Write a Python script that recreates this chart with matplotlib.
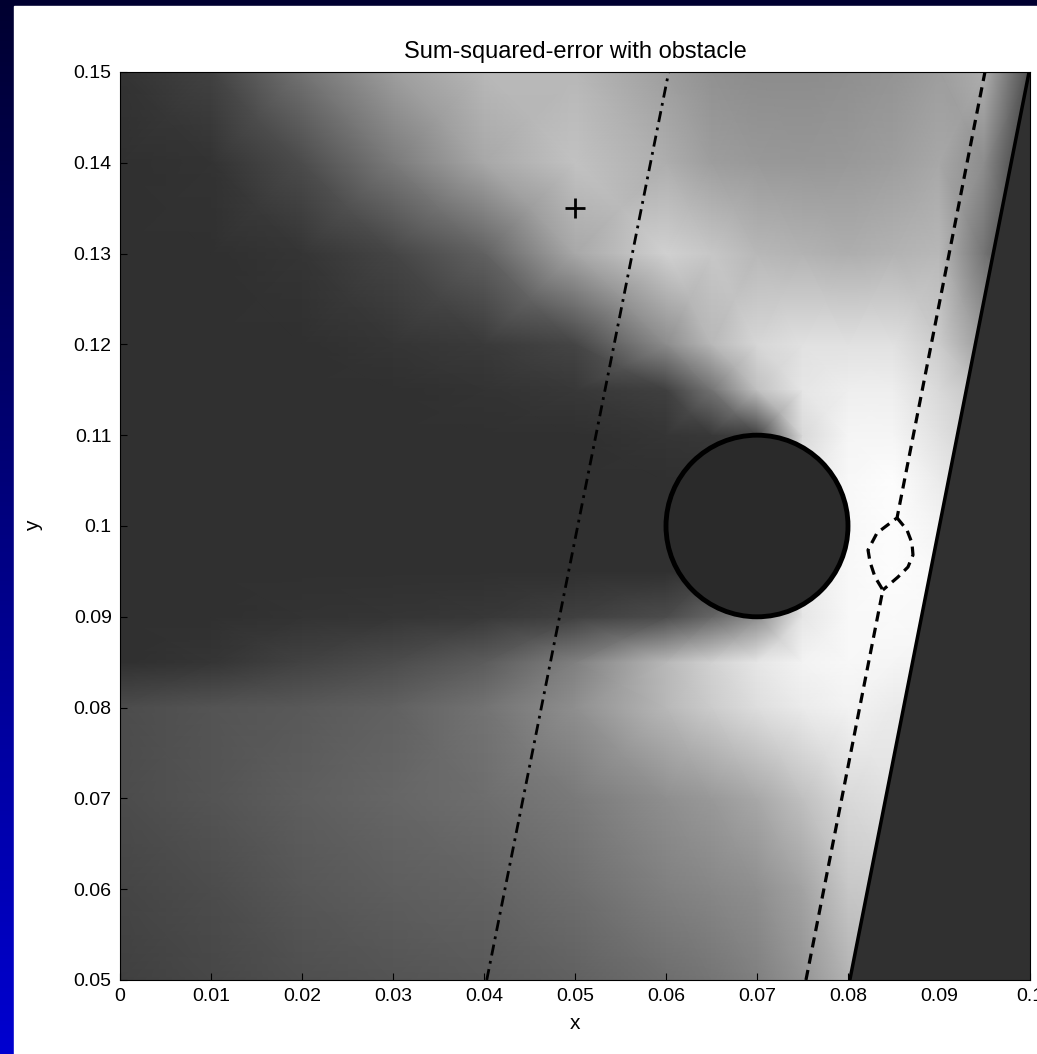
import numpy as np
import matplotlib
matplotlib.use("Agg")
import matplotlib.pyplot as plt
from matplotlib.colors import LinearSegmentedColormap
from matplotlib.patches import Rectangle, Circle

plt.rcParams['font.family'] = ['Liberation Sans', 'DejaVu Sans']

# grid nodes of the error surface (gray level 0..1)
x_nodes = [0, .01, .02, .03, .04, .05, .06, .065, .07, .075, .08, .085, .09, .095, .1]
y_nodes = [.05, .06, .07, .08, .085, .09, .095, .1, .105, .11, .115, .12, .13, .14, .15]
sse = [
    [.25, .28, .31, .33, .35, .38, .43, .46, .50, .58, .70, .72, .72, .72, .72],  # 0.05
    [.27, .30, .34, .37, .39, .43, .50, .53, .56, .64, .78, .80, .80, .80, .80],  # 0.06
    [.30, .33, .37, .40, .43, .48, .56, .60, .66, .75, .85, .88, .88, .88, .88],  # 0.07
    [.30, .33, .35, .38, .45, .56, .72, .80, .87, .92, .95, .92, .90, .90, .90],  # 0.08
    [.19, .21, .26, .30, .36, .50, .72, .82, .90, .95, .97, .96, .95, .95, .95],  # 0.085
    [.19, .19, .20, .21, .22, .25, .30, .40, .55, .90, .97, .98, .97, .97, .97],  # 0.09
    [.19, .19, .19, .19, .19, .19, .19, .19, .19, .92, .97, .99, .97, .97, .97],  # 0.095
    [.19, .19, .19, .19, .19, .19, .19, .19, .19, .92, .97, .99, .95, .90, .90],  # 0.1
    [.19, .19, .19, .19, .19, .19, .19, .19, .19, .92, .97, .99, .92, .85, .85],  # 0.105
    [.19, .19, .19, .19, .19, .19, .21, .22, .25, .85, .96, .96, .88, .80, .80],  # 0.11
    [.19, .19, .19, .19, .20, .22, .25, .45, .75, .90, .93, .93, .85, .75, .75],  # 0.115
    [.19, .19, .19, .21, .23, .27, .55, .72, .84, .88, .88, .88, .80, .60, .60],  # 0.12
    [.19, .19, .21, .27, .38, .66, .82, .78, .72, .70, .68, .70, .72, .45, .19],  # 0.13
    [.19, .20, .30, .48, .66, .76, .68, .62, .60, .59, .60, .62, .66, .55, .19],  # 0.14
    [.20, .26, .45, .62, .72, .72, .62, .57, .55, .55, .56, .58, .62, .68, .30],  # 0.15
]

# obstacle
obst_center = (0.07, 0.10)
obst_radius = 0.01

# boundary lines
solid_x = [0.0802, 0.0999]
solid_y = [0.05, 0.15]
dashdot_x = [0.0403, 0.0603]
dashdot_y = [0.05, 0.15]
# dashed path with the small loop
dash_x = [0.07538, 0.08383, 0.08297, 0.08242, 0.0822, 0.08319, 0.08539, 0.09505]
dash_y = [0.05, 0.09295, 0.09438, 0.09604, 0.09736, 0.09923, 0.1009, 0.15]
loop_x = [0.08539, 0.08648, 0.08703, 0.08714, 0.08659, 0.08549, 0.08383]
loop_y = [0.1009, 0.09956, 0.09813, 0.09681, 0.09548, 0.09438, 0.09295]

start_x = [0.05]
start_y = [0.135]

xticks = [0, .01, .02, .03, .04, .05, .06, .07, .08, .09, .1]
xlabels = ['0', '0.01', '0.02', '0.03', '0.04', '0.05', '0.06', '0.07', '0.08', '0.09', '0.1']
yticks = [.05, .06, .07, .08, .09, .1, .11, .12, .13, .14, .15]
ylabels = ['0.05', '0.06', '0.07', '0.08', '0.09', '0.1', '0.11', '0.12', '0.13', '0.14', '0.15']

W, H = 1037, 1054
fig = plt.figure(figsize=(W / 100, H / 100), dpi=100)

# slide background: blue gradient with white page
bg = fig.add_axes([0, 0, 1, 1])
bgmap = LinearSegmentedColormap.from_list('bg', ['#000030', '#0000d0'])
bg.imshow(np.linspace(0, 1, 256).reshape(-1, 1), cmap=bgmap, aspect='auto',
          extent=[0, 1, 0, 1], origin='upper')
bg.add_patch(Rectangle((14 / W, 0), 1, (H - 6) / H, color='white'))
bg.set_xlim(0, 1)
bg.set_ylim(0, 1)
bg.axis('off')

ax = fig.add_axes([120 / W, 74 / H, 910 / W, 908 / H])
X, Y = np.meshgrid(x_nodes, y_nodes)
ax.pcolormesh(X, Y, np.array(sse), shading='gouraud', cmap='gray', vmin=0, vmax=1)

# region beyond the solid boundary
ax.fill_betweenx(solid_y, solid_x, [0.1, 0.1], color='#303030', zorder=2)
ax.plot(solid_x, solid_y, color='black', lw=2.5, zorder=3)

ax.plot(dashdot_x, dashdot_y, color='black', lw=2, dashes=(4, 2, 1, 2), zorder=3)
ax.plot(dash_x, dash_y, color='black', lw=2.3, dashes=(3.2, 2), zorder=3)
ax.plot(loop_x, loop_y, color='black', lw=2.3, dashes=(3.2, 2), zorder=3)

ax.add_patch(Circle(obst_center, obst_radius, facecolor='#2a2a2a', edgecolor='black',
                    lw=3.5, zorder=4))

ax.plot(start_x, start_y, marker='+', color='black', ms=14, mew=2, linestyle='None', zorder=5)

ax.set_xlim(0, 0.1)
ax.set_ylim(0.05, 0.15)
ax.set_xticks(xticks)
ax.set_xticklabels(xlabels)
ax.set_yticks(yticks)
ax.set_yticklabels(ylabels)
ax.tick_params(direction='in', length=5, labelsize=14, pad=6)
ax.set_title('Sum-squared-error with obstacle', fontsize=17, pad=10)
ax.set_xlabel('x', fontsize=15, labelpad=6)
ax.set_ylabel('y', fontsize=15, labelpad=22)

fig.savefig('out.png', dpi=100)
